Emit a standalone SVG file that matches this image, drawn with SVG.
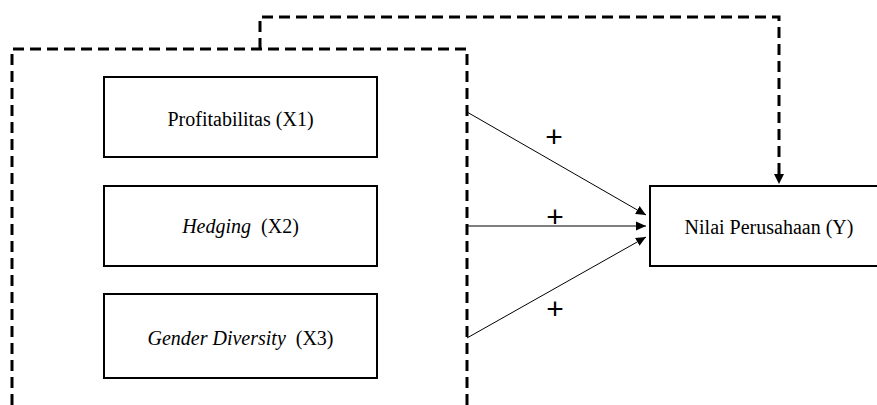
<svg xmlns="http://www.w3.org/2000/svg" width="877" height="405" viewBox="0 0 877 405">
<style>
.box{fill:#fff;stroke:#000;stroke-width:2}
.dash{fill:none;stroke:#000;stroke-width:3;stroke-dasharray:11 6}
.lbl{font-family:"Liberation Serif","Times New Roman",serif;font-size:20px;fill:#000;text-anchor:middle}
.it{font-style:italic}
.arr{stroke:#000;stroke-width:1;fill:none;marker-end:url(#ah)}
.plus{font-family:"Liberation Sans",Arial,sans-serif;font-size:30px;fill:#000;text-anchor:middle}
</style>
<defs>
<marker id="ah" markerWidth="10" markerHeight="10" refX="10" refY="5" orient="auto" markerUnits="userSpaceOnUse">
<path d="M0,0.5 L10,5 L0,9.5 Z" fill="#000"/>
</marker>
</defs>
<rect width="877" height="405" fill="#fff"/>
<g id="group-x">
<path class="dash" d="M12,405 L12,49 L467,49 L467,405"/>
</g>
<g id="node-x1">
<rect class="box" x="104" y="77" width="273" height="80"/>
<text class="lbl" x="240.5" y="126">Profitabilitas (X1)</text>
</g>
<g id="node-x2">
<rect class="box" x="104" y="186" width="273" height="80"/>
<text class="lbl" x="240.5" y="233"><tspan class="it">Hedging</tspan>&#160; (X2)</text>
</g>
<g id="node-x3">
<rect class="box" x="104" y="294" width="273" height="84"/>
<text class="lbl" x="240.5" y="345"><tspan class="it">Gender Diversity</tspan>&#160; (X3)</text>
</g>
<g id="node-y">
<rect class="box" x="650" y="186" width="232" height="80"/>
<text class="lbl" x="769" y="234">Nilai Perusahaan (Y)</text>
</g>
<g id="connectors">
<line class="arr" x1="467" y1="112" x2="646" y2="215"/>
<line class="arr" x1="467" y1="226" x2="646" y2="226"/>
<line class="arr" x1="467" y1="338" x2="646" y2="237"/>
<path class="dash" d="M260,49 L260,17 L779,17 L779,176"/>
<path d="M774,174 L784,174 L779,184 Z" fill="#000"/>
<text class="plus" x="554" y="147">+</text>
<text class="plus" x="555" y="227">+</text>
<text class="plus" x="555" y="319">+</text>
</g>
</svg>
